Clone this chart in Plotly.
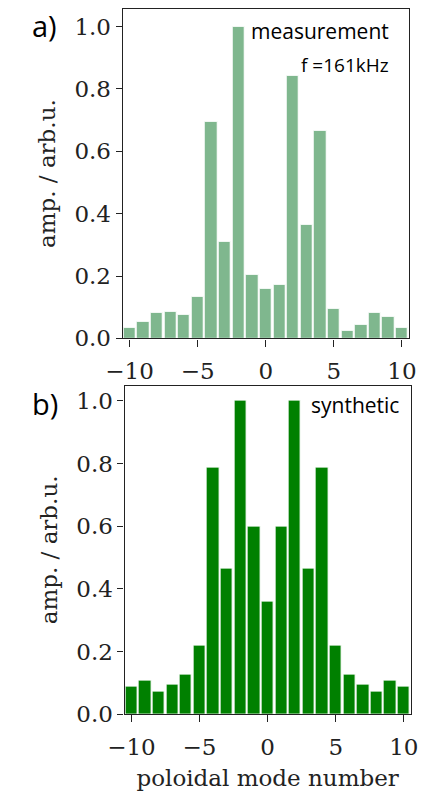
import plotly.graph_objects as go

modes = list(range(-10, 11))
measurement = [0.035, 0.054, 0.082, 0.085, 0.074, 0.134, 0.696, 0.31, 1.0, 0.203, 0.16,
               0.171, 0.843, 0.363, 0.665, 0.095, 0.024, 0.044, 0.082, 0.068, 0.035]
synthetic = [0.088, 0.106, 0.071, 0.095, 0.127, 0.22, 0.788, 0.464, 1.0, 0.6, 0.36,
             0.6, 1.0, 0.464, 0.788, 0.22, 0.127, 0.095, 0.071, 0.106, 0.088]
xticks = [-10, -5, 0, 5, 10]
yticks = [0.0, 0.2, 0.4, 0.6, 0.8, 1.0]
ytick_text = ["0.0", "0.2", "0.4", "0.6", "0.8", "1.0"]
xtick_text = ["\u221210", "\u22125", "0", "5", "10"]

W, H = 429, 799
fig = go.Figure()
fig.add_trace(go.Bar(x=modes, y=measurement, width=0.9, xaxis="x", yaxis="y",
                     marker=dict(color="#7fb78e", line=dict(color="white", width=1))))
fig.add_trace(go.Bar(x=modes, y=synthetic, width=0.9, xaxis="x2", yaxis="y2",
                     marker=dict(color="#008000", line=dict(color="white", width=1))))

serif = dict(family="DejaVu Serif", size=23, color="#222")
common_x = dict(range=[-10.5, 10.5], tickvals=xticks, ticktext=xtick_text, ticks="outside",
                ticklen=7, tickwidth=1.2, tickcolor="#222", showline=True, linecolor="#222",
                linewidth=1.3, mirror=True, showgrid=False, zeroline=False, tickfont=serif,
                ticklabelstandoff=5)
common_y = dict(tickvals=yticks, ticktext=ytick_text, ticks="outside", ticklen=6, tickwidth=1.2,
                tickcolor="#222", showline=True, linecolor="#222", linewidth=1.3, mirror=True,
                showgrid=False, zeroline=False, tickfont=serif,
                title=dict(text="amp. / arb.u.", font=serif, standoff=12))

fig.update_layout(
    width=W, height=H, margin=dict(l=0, r=0, t=0, b=0),
    paper_bgcolor="white", plot_bgcolor="white", showlegend=False, bargap=0,
    xaxis=dict(domain=[112 / W, 415 / W], anchor="y", **common_x),
    yaxis=dict(domain=[1 - 344 / H, 1 - 9 / H], anchor="x", range=[0, 1.057], **common_y),
    xaxis2=dict(domain=[114 / W, 417 / W], anchor="y2",
                title=dict(text="poloidal mode number", font=serif, standoff=10), **common_x),
    yaxis2=dict(domain=[1 - 726 / H, 1 - 392 / H], anchor="x2", range=[0, 1.049], **common_y),
)

sans = "Open Sans"
fig.add_annotation(x=14 / W, y=1 - 26 / H, xref="paper", yref="paper", text="a)", showarrow=False,
                   xanchor="left", yanchor="middle", font=dict(family=sans, size=29, color="black"))
fig.add_annotation(x=14 / W, y=1 - 410 / H, xref="paper", yref="paper", text="b)", showarrow=False,
                   xanchor="left", yanchor="middle", font=dict(family=sans, size=29, color="black"))
fig.add_annotation(x=396 / W, y=1 - 32 / H, xref="paper", yref="paper", text="measurement",
                   showarrow=False, xanchor="right", yanchor="middle",
                   font=dict(family=sans, size=21, color="black"))
fig.add_annotation(x=396 / W, y=1 - 66 / H, xref="paper", yref="paper", text="f =161kHz",
                   showarrow=False, xanchor="right", yanchor="middle",
                   font=dict(family=sans, size=19, color="black"))
fig.add_annotation(x=407 / W, y=1 - 412 / H, xref="paper", yref="paper", text="synthetic",
                   showarrow=False, xanchor="right", yanchor="middle",
                   font=dict(family=sans, size=21, color="black"))

fig.write_html("out.html")
